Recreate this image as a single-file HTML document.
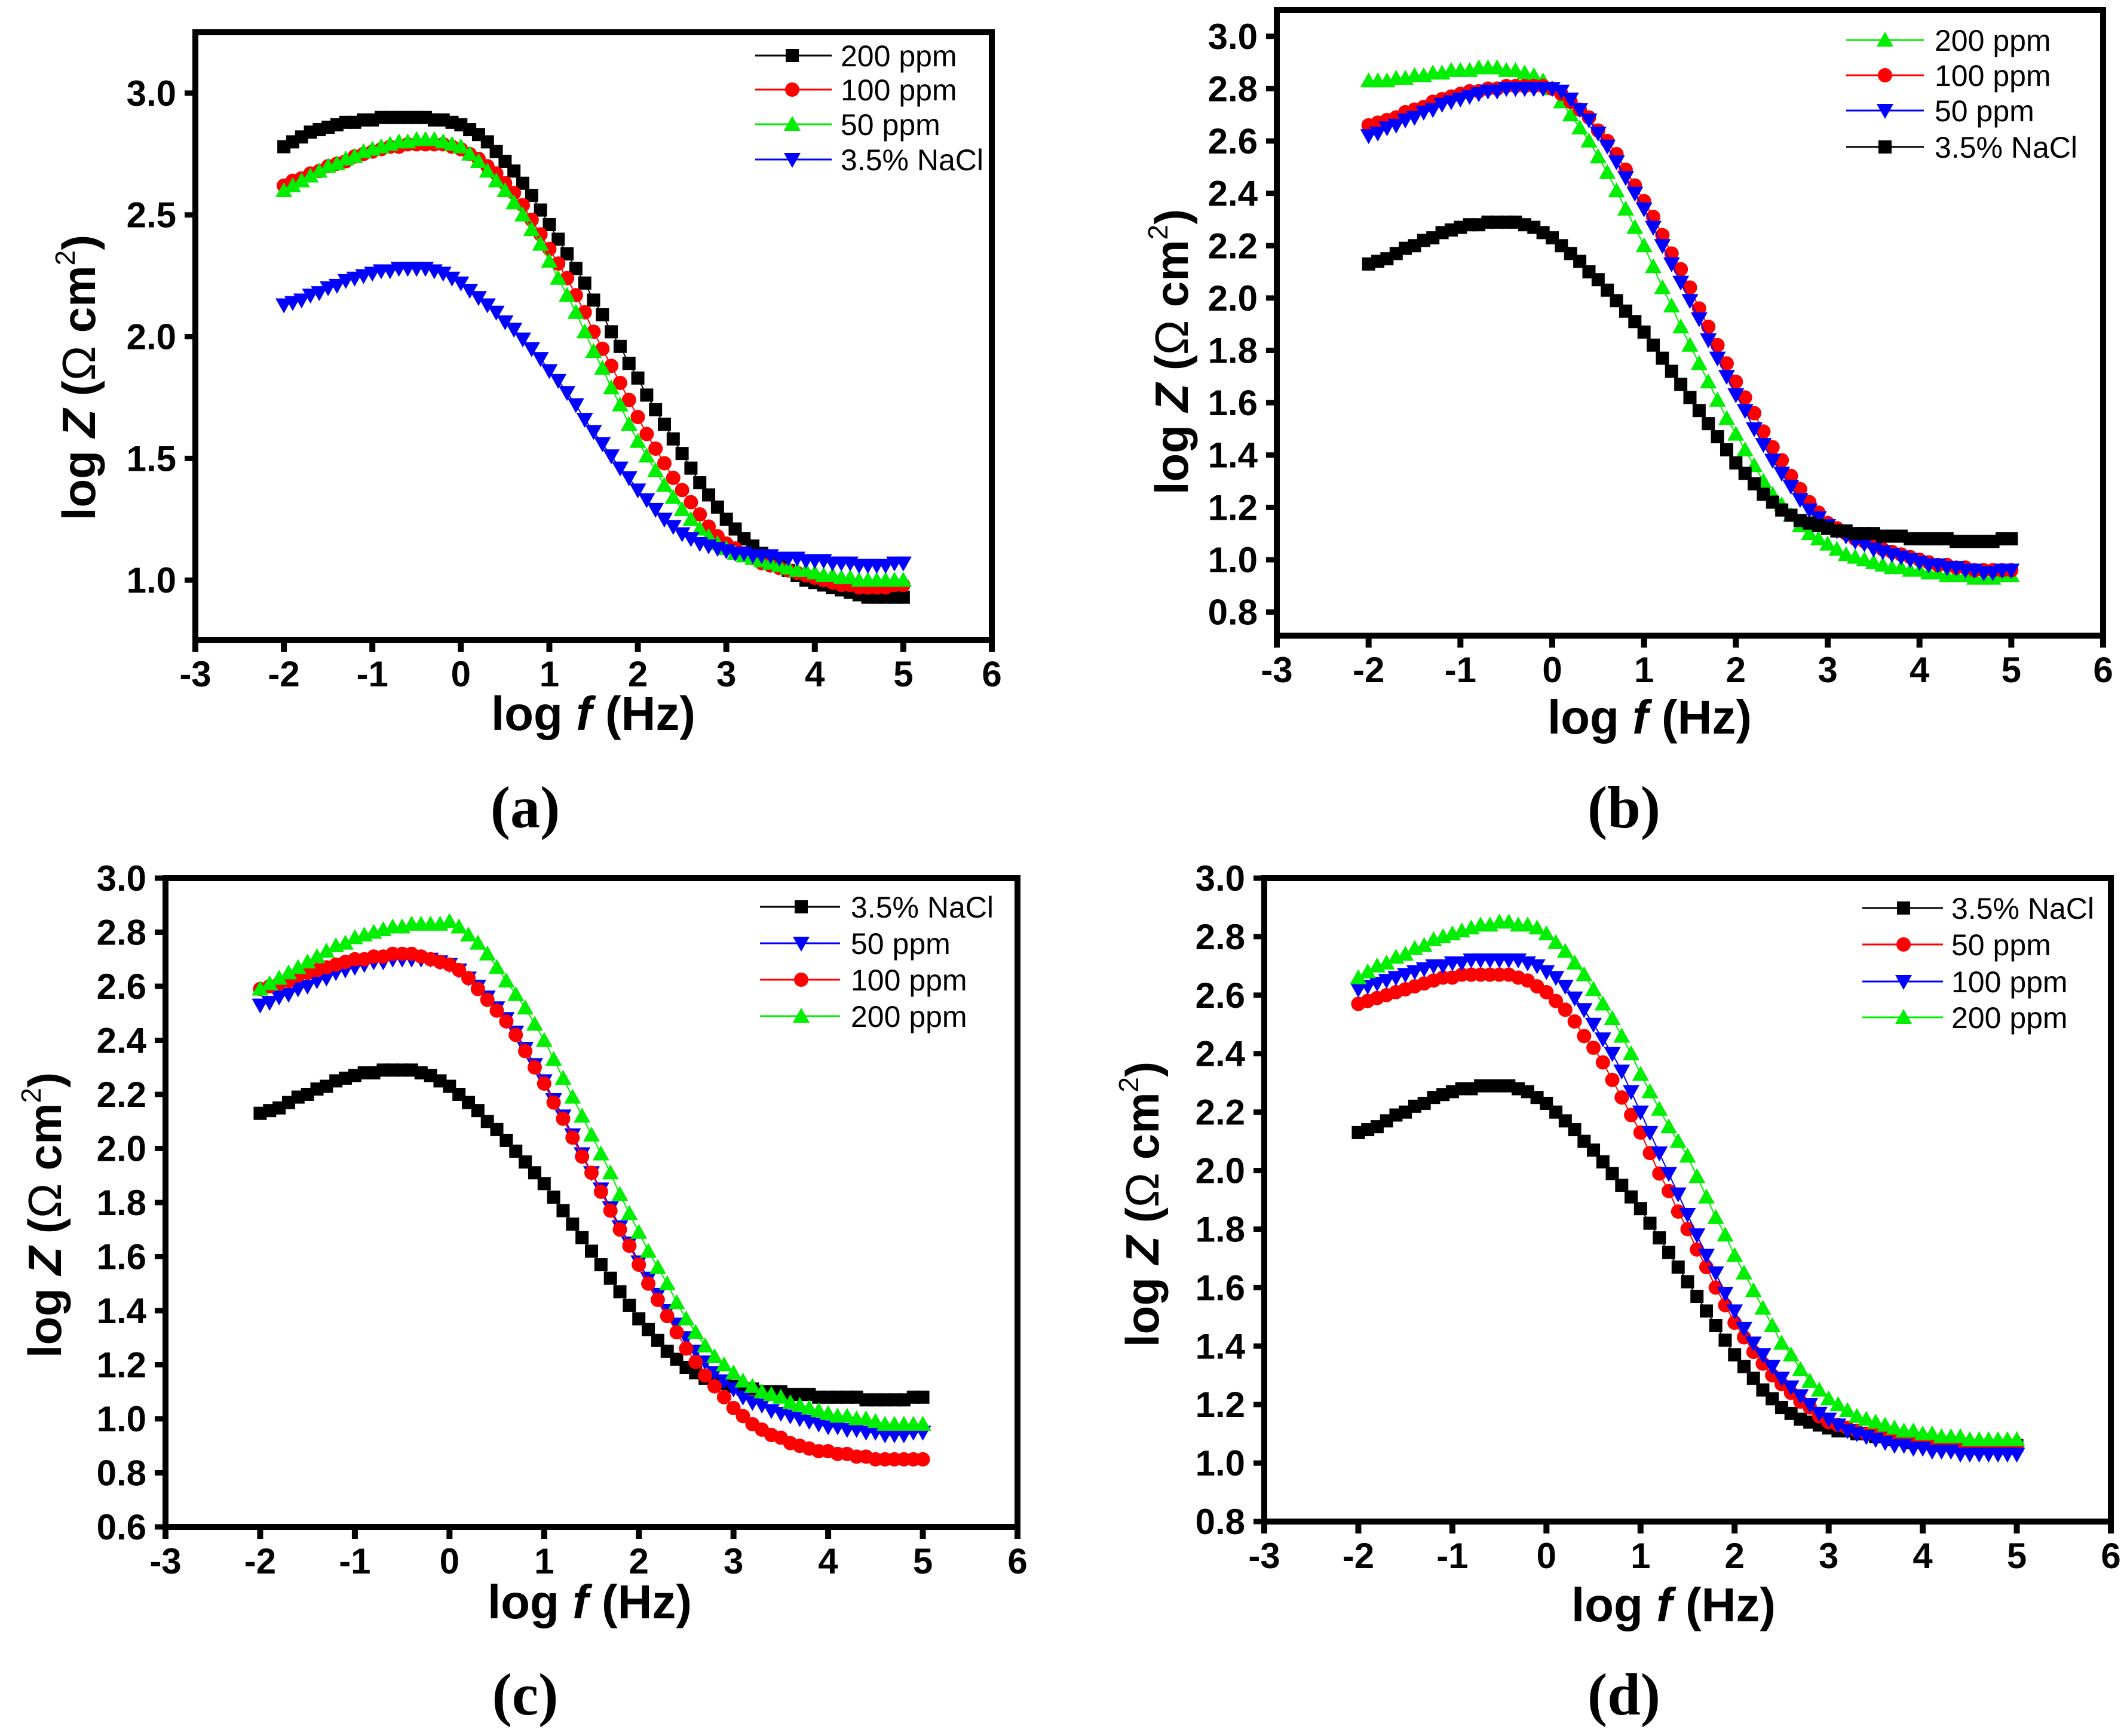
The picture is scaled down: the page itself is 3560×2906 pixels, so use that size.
<!DOCTYPE html>
<html><head><meta charset="utf-8">
<style>
html,body{margin:0;padding:0;background:#fff;}
svg{display:block;}
text{font-family:"Liberation Sans",Arial,sans-serif;}
text.serif{font-family:"Liberation Serif","Times New Roman",serif;}
</style></head>
<body>
<svg id="fig" width="3560" height="2906" viewBox="0 0 3560 2906" xmlns="http://www.w3.org/2000/svg"></svg>
<script>
// ---------- data (log Z values at log f = -2.0 ... 5.0, step 0.1) ----------
const xStart = -2, xStep = 0.1;
// panel a
const a200 = [2.78,2.80,2.82,2.84,2.85,2.86,2.87,2.88,2.88,2.89,2.89, 2.90,2.90,2.90,2.90,2.90,2.90,2.89,2.89,2.88,2.87, 2.85,2.83,2.80,2.76,2.72,2.68,2.63,2.58,2.52,2.46, 2.40,2.34,2.28,2.22,2.15,2.09,2.02,1.96,1.89,1.83, 1.76,1.70,1.64,1.58,1.52,1.46,1.40,1.35,1.30,1.25, 1.21,1.17,1.14,1.11,1.08,1.06,1.04,1.02,1.00,0.99, 0.98,0.97,0.96,0.95,0.94,0.93,0.93,0.93,0.93,0.93];
const a100 = [2.62,2.64,2.65,2.67,2.68,2.70,2.71,2.72,2.74,2.75,2.76, 2.77,2.78,2.78,2.79,2.79,2.79,2.79,2.79,2.78,2.77, 2.75,2.73,2.70,2.67,2.63,2.59,2.54,2.48,2.42,2.36, 2.30,2.24,2.17,2.10,2.02,1.95,1.88,1.81,1.74,1.67, 1.60,1.54,1.48,1.42,1.37,1.32,1.27,1.22,1.18,1.15, 1.13,1.11,1.09,1.07,1.06,1.05,1.04,1.03,1.02,1.01, 1.00,0.99,0.98,0.98,0.97,0.97,0.97,0.97,0.98,0.98];
const a50 = [2.60,2.62,2.64,2.66,2.68,2.70,2.71,2.73,2.74,2.76,2.77, 2.78,2.79,2.80,2.80,2.81,2.81,2.81,2.80,2.79,2.78, 2.75,2.72,2.68,2.64,2.60,2.55,2.50,2.44,2.38,2.31, 2.24,2.17,2.10,2.02,1.94,1.87,1.79,1.72,1.64,1.57, 1.51,1.45,1.39,1.34,1.29,1.25,1.21,1.18,1.15,1.13, 1.11,1.10,1.09,1.08,1.07,1.06,1.05,1.04,1.04,1.03, 1.02,1.02,1.01,1.01,1.00,1.00,1.00,1.00,1.00,1.00];
const aNaCl = [2.13,2.14,2.15,2.17,2.18,2.20,2.21,2.23,2.24,2.25,2.26, 2.27,2.27,2.28,2.28,2.28,2.28,2.27,2.26,2.24,2.22, 2.19,2.16,2.13,2.10,2.06,2.03,1.99,1.95,1.91,1.86, 1.82,1.77,1.72,1.66,1.61,1.56,1.51,1.46,1.42,1.37, 1.33,1.29,1.25,1.22,1.19,1.17,1.15,1.14,1.13,1.12, 1.11,1.11,1.10,1.10,1.10,1.09,1.09,1.09,1.08,1.08, 1.08,1.07,1.07,1.07,1.06,1.06,1.06,1.06,1.07,1.07];
// panel b
const b200 = [2.83,2.83,2.83,2.84,2.84,2.85,2.85,2.86,2.86,2.87,2.87, 2.87,2.88,2.88,2.88,2.87,2.87,2.86,2.85,2.83,2.80, 2.75,2.70,2.65,2.60,2.54,2.48,2.41,2.34,2.27,2.20, 2.12,2.04,1.97,1.89,1.82,1.75,1.68,1.61,1.54,1.48, 1.42,1.36,1.30,1.25,1.21,1.17,1.13,1.10,1.08,1.06, 1.04,1.02,1.01,1.00,0.99,0.98,0.97,0.97,0.96,0.96, 0.95,0.95,0.94,0.94,0.94,0.93,0.93,0.93,0.94,0.94];
const b100 = [2.66,2.67,2.68,2.69,2.71,2.72,2.73,2.75,2.76,2.77,2.78, 2.79,2.79,2.80,2.80,2.81,2.81,2.81,2.81,2.81,2.80, 2.78,2.75,2.72,2.69,2.64,2.60,2.55,2.49,2.43,2.37, 2.31,2.24,2.17,2.11,2.04,1.96,1.89,1.82,1.75,1.68, 1.62,1.56,1.49,1.43,1.38,1.32,1.27,1.22,1.18,1.14, 1.12,1.10,1.08,1.07,1.06,1.04,1.03,1.02,1.01,1.00, 0.99,0.98,0.98,0.97,0.97,0.96,0.96,0.96,0.96,0.96];
const b50 = [2.62,2.63,2.65,2.66,2.68,2.69,2.71,2.72,2.74,2.75,2.76, 2.77,2.78,2.79,2.79,2.80,2.80,2.80,2.80,2.80,2.80, 2.79,2.76,2.72,2.68,2.63,2.58,2.52,2.46,2.40,2.34, 2.27,2.20,2.13,2.06,1.99,1.92,1.84,1.77,1.70,1.63, 1.57,1.50,1.44,1.38,1.33,1.28,1.23,1.19,1.16,1.13, 1.11,1.09,1.07,1.06,1.04,1.03,1.02,1.01,1.00,0.99, 0.98,0.98,0.97,0.97,0.96,0.96,0.95,0.95,0.96,0.96];
const bNaCl = [2.13,2.14,2.15,2.17,2.19,2.20,2.22,2.23,2.25,2.26,2.27, 2.28,2.28,2.29,2.29,2.29,2.29,2.28,2.27,2.25,2.23, 2.20,2.17,2.14,2.10,2.07,2.03,1.99,1.95,1.91,1.87, 1.82,1.77,1.72,1.67,1.62,1.57,1.52,1.47,1.42,1.37, 1.33,1.29,1.25,1.22,1.19,1.17,1.15,1.14,1.13,1.12, 1.11,1.11,1.10,1.10,1.10,1.09,1.09,1.09,1.08,1.08, 1.08,1.08,1.08,1.07,1.07,1.07,1.07,1.07,1.08,1.08];
// panel c
const cNaCl = [2.13,2.14,2.15,2.17,2.19,2.20,2.22,2.23,2.25,2.26,2.27, 2.28,2.28,2.29,2.29,2.29,2.29,2.28,2.27,2.25,2.23, 2.20,2.17,2.14,2.10,2.07,2.03,1.99,1.95,1.91,1.87, 1.82,1.77,1.72,1.67,1.62,1.57,1.52,1.47,1.42,1.37, 1.33,1.29,1.25,1.22,1.19,1.17,1.15,1.14,1.13,1.12, 1.11,1.11,1.10,1.10,1.10,1.09,1.09,1.09,1.08,1.08, 1.08,1.08,1.08,1.07,1.07,1.07,1.07,1.07,1.08,1.08];
const c50 = [2.53,2.54,2.56,2.57,2.59,2.60,2.62,2.63,2.65,2.66,2.67, 2.68,2.69,2.69,2.70,2.70,2.70,2.70,2.70,2.69,2.68, 2.66,2.63,2.60,2.56,2.52,2.48,2.43,2.37,2.31,2.25, 2.18,2.12,2.05,1.98,1.91,1.85,1.78,1.71,1.65,1.58, 1.52,1.46,1.40,1.35,1.30,1.25,1.21,1.17,1.14,1.11, 1.08,1.06,1.05,1.03,1.02,1.01,1.00,0.99,0.98,0.97, 0.97,0.96,0.96,0.95,0.95,0.94,0.94,0.94,0.95,0.95];
const c100 = [2.59,2.60,2.61,2.62,2.64,2.65,2.66,2.67,2.68,2.69,2.70, 2.70,2.71,2.71,2.72,2.72,2.72,2.71,2.70,2.69,2.68, 2.66,2.63,2.59,2.55,2.51,2.47,2.42,2.36,2.30,2.24, 2.17,2.11,2.04,1.97,1.91,1.84,1.77,1.70,1.64,1.57, 1.50,1.44,1.38,1.32,1.26,1.21,1.16,1.12,1.08,1.04, 1.01,0.98,0.96,0.94,0.93,0.91,0.90,0.89,0.88,0.88, 0.87,0.87,0.86,0.86,0.85,0.85,0.85,0.85,0.85,0.85];
const c200 = [2.59,2.61,2.63,2.65,2.67,2.69,2.71,2.73,2.75,2.76,2.78, 2.79,2.80,2.81,2.82,2.82,2.83,2.83,2.83,2.83,2.84, 2.82,2.79,2.76,2.72,2.67,2.62,2.57,2.52,2.46,2.40, 2.33,2.26,2.19,2.12,2.05,1.98,1.91,1.83,1.76,1.69, 1.62,1.56,1.50,1.43,1.37,1.32,1.27,1.23,1.20,1.17, 1.14,1.12,1.10,1.09,1.08,1.06,1.05,1.04,1.03,1.02, 1.01,1.01,1.00,1.00,0.99,0.98,0.98,0.98,0.98,0.98];
// panel d
const dNaCl = [2.13,2.14,2.15,2.17,2.19,2.20,2.22,2.23,2.25,2.26,2.27, 2.28,2.28,2.29,2.29,2.29,2.29,2.28,2.27,2.25,2.23, 2.20,2.17,2.14,2.10,2.07,2.03,1.99,1.95,1.91,1.87, 1.82,1.77,1.72,1.67,1.62,1.57,1.52,1.47,1.42,1.37, 1.33,1.29,1.25,1.22,1.19,1.17,1.15,1.14,1.13,1.12, 1.11,1.11,1.10,1.10,1.09,1.09,1.08,1.08,1.07,1.07, 1.07,1.06,1.06,1.06,1.05,1.05,1.05,1.05,1.06,1.06];
const d50 = [2.57,2.58,2.59,2.60,2.61,2.62,2.63,2.64,2.65,2.66,2.66, 2.67,2.67,2.67,2.67,2.67,2.67,2.66,2.65,2.63,2.61, 2.58,2.55,2.51,2.46,2.42,2.37,2.31,2.25,2.19,2.13, 2.06,1.99,1.93,1.86,1.80,1.73,1.67,1.60,1.54,1.48, 1.43,1.38,1.34,1.30,1.27,1.24,1.21,1.19,1.16,1.14, 1.13,1.12,1.11,1.10,1.10,1.09,1.09,1.08,1.08,1.08, 1.07,1.07,1.06,1.06,1.05,1.05,1.05,1.05,1.06,1.06];
const d100 = [2.62,2.63,2.64,2.65,2.66,2.67,2.68,2.69,2.70,2.70,2.71, 2.71,2.72,2.72,2.72,2.72,2.72,2.72,2.71,2.70,2.68, 2.66,2.63,2.59,2.55,2.50,2.45,2.40,2.34,2.27,2.20, 2.13,2.06,1.99,1.92,1.85,1.78,1.71,1.65,1.58,1.52, 1.46,1.41,1.37,1.33,1.29,1.26,1.23,1.20,1.17,1.15, 1.13,1.11,1.10,1.09,1.08,1.07,1.06,1.06,1.05,1.05, 1.04,1.04,1.04,1.03,1.03,1.03,1.03,1.03,1.03,1.03];
const d200 = [2.66,2.68,2.70,2.71,2.73,2.74,2.76,2.77,2.79,2.80,2.81, 2.82,2.83,2.84,2.84,2.85,2.85,2.84,2.84,2.83,2.81, 2.78,2.75,2.71,2.67,2.62,2.57,2.52,2.46,2.40,2.33, 2.27,2.21,2.15,2.10,2.05,1.98,1.91,1.84,1.78,1.71, 1.65,1.59,1.53,1.47,1.41,1.37,1.32,1.28,1.25,1.22, 1.20,1.18,1.16,1.15,1.14,1.13,1.12,1.11,1.11,1.10, 1.10,1.09,1.09,1.09,1.08,1.08,1.08,1.08,1.08,1.08];

const xTicks = [-3,-2,-1,0,1,2,3,4,5,6];
const yTicksA = [1.0,1.5,2.0,2.5,3.0];
const yTicksB = [0.8,1.0,1.2,1.4,1.6,1.8,2.0,2.2,2.4,2.6,2.8,3.0];
const yTicksC = [0.6,0.8,1.0,1.2,1.4,1.6,1.8,2.0,2.2,2.4,2.6,2.8,3.0];
const yTicksD = [0.8,1.0,1.2,1.4,1.6,1.8,2.0,2.2,2.4,2.6,2.8,3.0];

const COL = {black:'#000000', red:'#ff0000', green:'#00ee00', blue:'#0000ff'};
const NS = 'http://www.w3.org/2000/svg';
const svg = document.getElementById('fig');
function mk(tag, attrs, parent){
  const e = document.createElementNS(NS, tag);
  for (const k in attrs) e.setAttribute(k, attrs[k]);
  (parent||svg).appendChild(e); return e;
}
function marker(g, shape, cx, cy, color){
  let e;
  if (shape==='square') e = mk('rect',{x:cx-11,y:cy-11,width:22,height:22,fill:color},g);
  else if (shape==='circle') e = mk('circle',{cx:cx,cy:cy,r:12,fill:color},g);
  else if (shape==='up') e = mk('polygon',{points:`${cx-14},${cy+11} ${cx+14},${cy+11} ${cx},${cy-14}`,fill:color},g);
  else e = mk('polygon',{points:`${cx-14},${cy-11} ${cx+14},${cy-11} ${cx},${cy+14}`,fill:color},g);
  return e;
}

const panels = [
 {id:'a', L:327,R:1660,T:54,B:1071, ymin:0.755,ymax:3.25, yticks:yTicksA, fmt:1,
  series:[{n:'200 ppm',d:a200,c:COL.black,s:'square'},{n:'100 ppm',d:a100,c:COL.red,s:'circle'},{n:'50 ppm',d:a50,c:COL.green,s:'up'},{n:'3.5% NaCl',d:aNaCl,c:COL.blue,s:'down'}],
  leg:{x1:1264,x2:1392,mx:1326,tx:1407,rows:[93,150,208,267]},
  yt:{x:131,y:632}, xt:{x:993,y:1222}, lab:{x:879,y:1385,t:'(a)'}},
 {id:'b', L:2137,R:3520,T:17,B:1064, ymin:0.71,ymax:3.10, yticks:yTicksB, fmt:1,
  series:[{n:'200 ppm',d:b200,c:COL.green,s:'up'},{n:'100 ppm',d:b100,c:COL.red,s:'circle'},{n:'50 ppm',d:b50,c:COL.blue,s:'down'},{n:'3.5% NaCl',d:bNaCl,c:COL.black,s:'square'}],
  leg:{x1:3090,x2:3220,mx:3155,tx:3238,rows:[67,126,185,246]},
  yt:{x:1960,y:589}, xt:{x:2761,y:1228}, lab:{x:2718,y:1385,t:'(b)'}},
 {id:'c', L:277,R:1703,T:1470,B:2556, ymin:0.6,ymax:3.0, yticks:yTicksC, fmt:1,
  series:[{n:'3.5% NaCl',d:cNaCl,c:COL.black,s:'square'},{n:'50 ppm',d:c50,c:COL.blue,s:'down'},{n:'100 ppm',d:c100,c:COL.red,s:'circle'},{n:'200 ppm',d:c200,c:COL.green,s:'up'}],
  leg:{x1:1272,x2:1406,mx:1341,tx:1424,rows:[1518,1579,1640,1701]},
  yt:{x:74,y:2034}, xt:{x:987,y:2709}, lab:{x:879,y:2870,t:'(c)'}},
 {id:'d', L:2116,R:3533,T:1470,B:2547, ymin:0.8,ymax:3.0, yticks:yTicksD, fmt:1,
  series:[{n:'3.5% NaCl',d:dNaCl,c:COL.black,s:'square'},{n:'50 ppm',d:d50,c:COL.red,s:'circle'},{n:'100 ppm',d:d100,c:COL.blue,s:'down'},{n:'200 ppm',d:d200,c:COL.green,s:'up'}],
  leg:{x1:3117,x2:3252,mx:3186,tx:3266,rows:[1520,1581,1643,1703]},
  yt:{x:1911,y:2016}, xt:{x:2801,y:2714}, lab:{x:2718,y:2870,t:'(d)'}}
];

panels.forEach(p=>{
  const g = mk('g',{});
  
  
  const xs = v => p.L + (v+3)/9*(p.R-p.L);
  const ys = v => p.B - (v-p.ymin)/(p.ymax-p.ymin)*(p.B-p.T);

  p.series.forEach((s,si)=>{
    const sg = mk('g',{},g);
    
    
    const pts = s.d.map((v,i)=>`${xs(xStart+i*xStep).toFixed(1)},${ys(v).toFixed(1)}`).join(' ');
    mk('polyline',{points:pts,fill:'none',stroke:s.c,'stroke-width':2},sg);
    s.d.forEach((v,i)=>{
      const m = marker(sg, s.s, xs(xStart+i*xStep), ys(v), s.c);
      
      
    });
  });

  const fr = mk('rect',{x:p.L,y:p.T,width:p.R-p.L,height:p.B-p.T,fill:'none',stroke:'#000','stroke-width':10},g);
  
  

  xTicks.forEach(t=>{
    const x = xs(t);
    mk('line',{x1:x,y1:p.B,x2:x,y2:p.B+20,stroke:'#000','stroke-width':10},g);
    const tx = mk('text',{x:x,y:p.B+78,'text-anchor':'middle','font-size':60,'font-weight':'bold'},g);
    tx.textContent = String(t);
    
    
  });
  p.yticks.forEach(t=>{
    const y = ys(t);
    mk('line',{x1:p.L-18,y1:y,x2:p.L,y2:y,stroke:'#000','stroke-width':9},g);
    const tx = mk('text',{x:p.L-32,y:y+21,'text-anchor':'end','font-size':60,'font-weight':'bold'},g);
    tx.textContent = t.toFixed(p.fmt);
    
    
  });

  const xt = mk('text',{x:p.xt.x,y:p.xt.y,'text-anchor':'middle','font-size':80,'font-weight':'bold'},g);
  xt.innerHTML = 'log <tspan font-style="italic">f</tspan> (Hz)';
  
  
  const yt = mk('text',{x:0,y:0,'text-anchor':'middle','font-size':78,'font-weight':'bold',transform:`translate(${p.yt.x+28},${p.yt.y}) rotate(-90)`},g);
  yt.innerHTML = 'log <tspan font-style="italic">Z</tspan> (<tspan font-weight="normal">Ω</tspan> cm<tspan font-size="46" font-weight="normal" dy="-34">2</tspan><tspan dy="34">)</tspan>';
  
  

  p.series.forEach((s,i)=>{
    const lg = mk('g',{},g);
    
    
    const y = p.leg.rows[i];
    mk('line',{x1:p.leg.x1,y1:y,x2:p.leg.x2,y2:y,stroke:s.c,'stroke-width':3},lg);
    marker(lg, s.s, p.leg.mx, y, s.c);
    const t = mk('text',{x:p.leg.tx,y:y+18,'font-size':50},lg);
    t.textContent = s.n;
  });

  const lb = mk('text',{x:p.lab.x,y:p.lab.y,'text-anchor':'middle','font-size':100,'font-weight':'bold','class':'serif'},g);
  lb.textContent = p.lab.t;
  
  
});
</script>
</body></html>
